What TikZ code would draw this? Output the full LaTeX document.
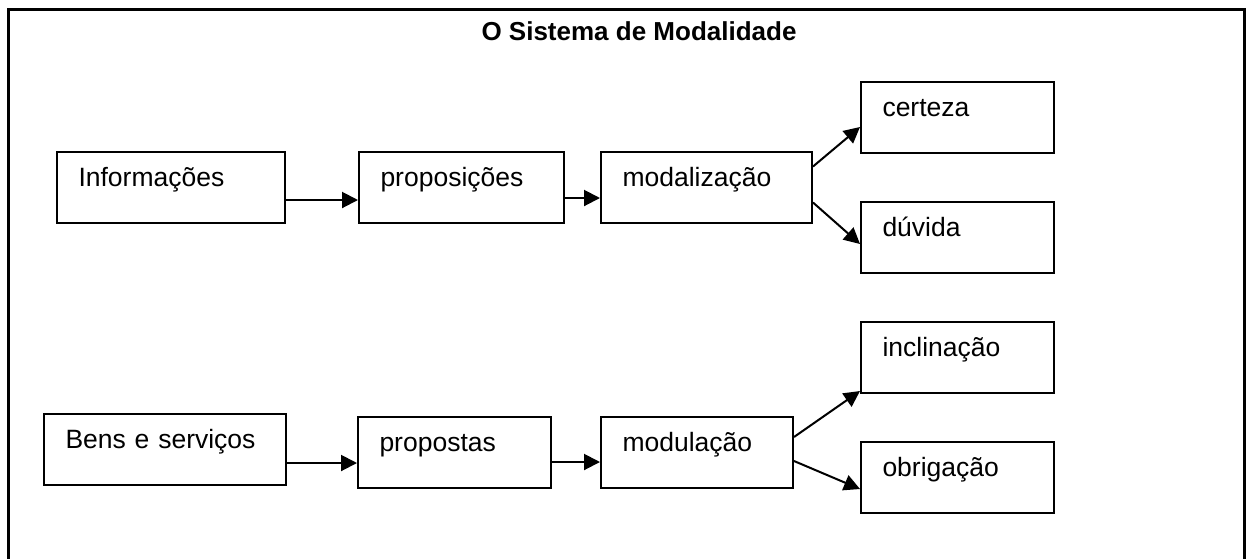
\documentclass[tikz,border=0pt]{standalone}
\usepackage{fontspec}
\setmainfont{Liberation Sans}
\usetikzlibrary{positioning,arrows.meta}
\tikzstyle{box} = [rectangle, draw=black, line width=2pt, inner xsep=21.5pt,
inner ysep=0pt, text height=34pt, text depth=37pt, align=left]
\tikzstyle{arrow} = [line width=2pt,->,>={Triangle[length=16pt,width=16pt]}]

\begin{document}
\begin{tikzpicture}[x=1pt,y=-1pt,font=\fontsize{26.5pt}{30pt}\selectfont]
\useasboundingbox (0,0) rectangle (1246,558);
\draw[line width=3pt] (8,560) |- (1244,9) -- (1244,560);
\node (title)[font=\fontsize{26pt}{30pt}\selectfont\bfseries, anchor=base] at (639,40) {O Sistema de Modalidade};

% informacoes
\node (info)[box, text width=185pt, anchor=north west] at (56,151) {Informações};
\node (prop)[box, text width=162pt, right=72pt of info] {proposições};
\node (modal)[box, text width=168pt, right=35pt of prop] {modalização};
\node (cert)[box, text width=150pt, anchor=north west] at (860,81) {certeza};
\node (duv)[box, text width=150pt, anchor=north west] at (860,201) {dúvida};

% bens e servicos
\node (bens)[box, text width=199pt, anchor=north west] at (43,413) {Bens e serviços};
\node (props)[box, text width=150pt, right=70pt of bens, yshift=-3pt] {propostas};
\node (modul)[box, text width=149pt, right=48pt of props] {modulação};
\node (incl)[box, text width=150pt, anchor=north west] at (860,321) {inclinação};
\node (obrig)[box, text width=150pt, anchor=north west] at (860,441) {obrigação};

\draw [arrow]([yshift=-12.5pt]info.east) -- ([yshift=-12.5pt]prop.west);
\draw [arrow]([yshift=-10.5pt]prop.east) -- ([yshift=-10.5pt]modal.west);
\draw [arrow]([yshift=21pt]modal.east) -- ([yshift=-9.5pt]cert.west);
\draw [arrow]([yshift=-15pt]modal.east) -- ([yshift=-6.5pt]duv.west);
\draw [arrow]([yshift=-13.5pt]bens.east) -- ([yshift=-10.5pt]props.west);
\draw [arrow]([yshift=-9.5pt]props.east) -- ([yshift=-9.5pt]modul.west);
\draw [arrow]([yshift=15.5pt]modul.east) -- ([yshift=-33.5pt]incl.west);
\draw [arrow]([yshift=-8.5pt]modul.east) -- ([yshift=-11.5pt]obrig.west);
\end{tikzpicture}
\end{document}
